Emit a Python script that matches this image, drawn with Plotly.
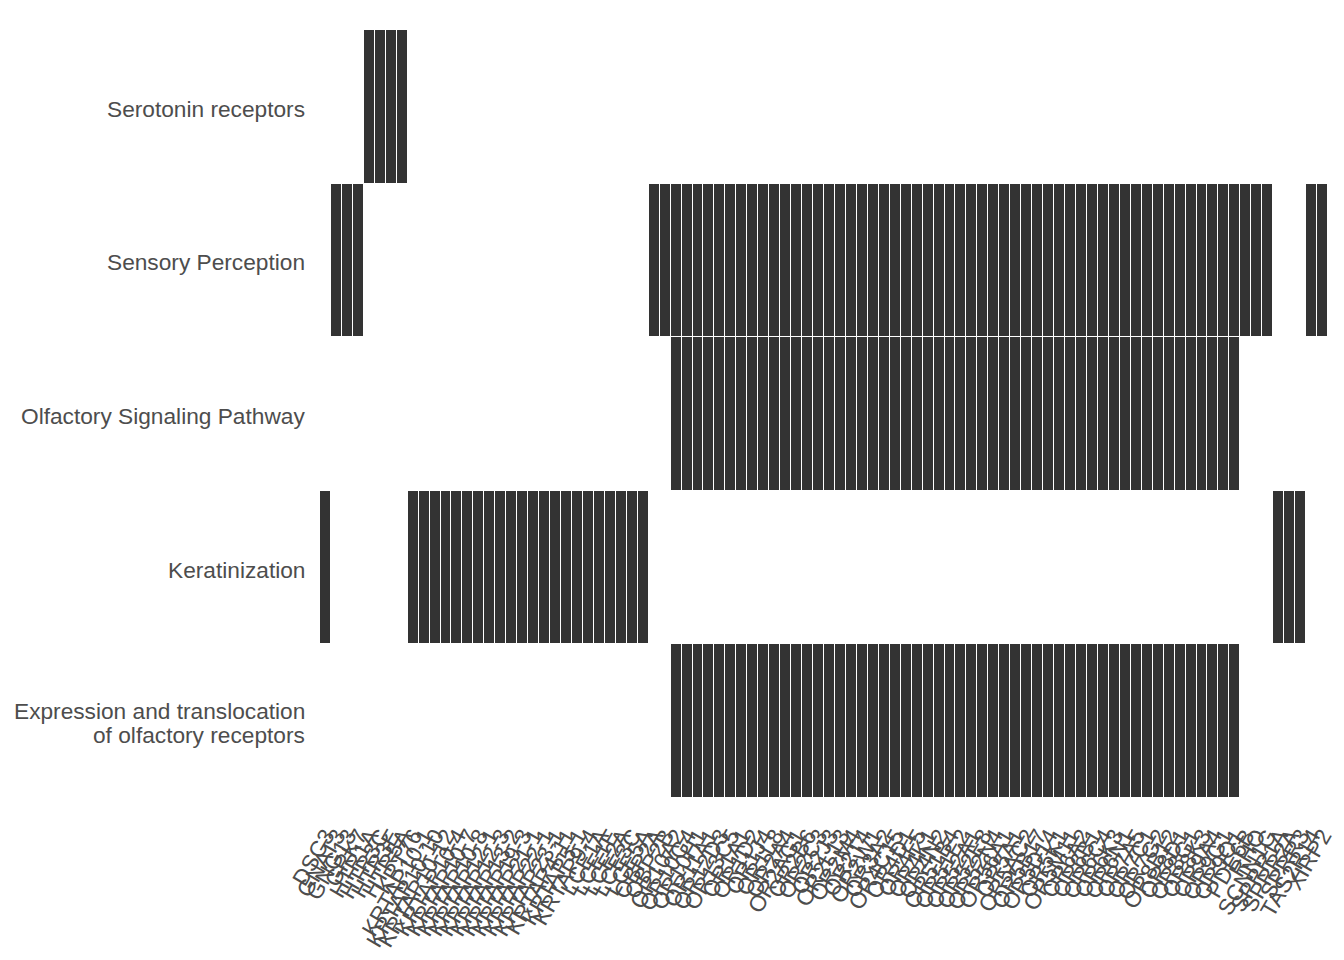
import plotly.graph_objects as go

# ---- data ----
pathways = [
    "Serotonin receptors",
    "Sensory Perception",
    "Olfactory Signaling Pathway",
    "Keratinization",
    "Expression and translocation of olfactory receptors",
]
# how each pathway label is broken into lines
pathway_lines = {
    "Serotonin receptors": ["Serotonin receptors"],
    "Sensory Perception": ["Sensory Perception"],
    "Olfactory Signaling Pathway": ["Olfactory Signaling Pathway"],
    "Keratinization": ["Keratinization"],
    "Expression and translocation of olfactory receptors":
        ["Expression and translocation", "of olfactory receptors"],
}

or_genes = [
    "OR10A2", "OR10G4", "OR10H1", "OR11A1", "OR12D3", "OR13C5", "OR1A1", "OR1D2",
    "OR1J4", "OR1L8", "OR2A4", "OR2AG1", "OR2B6", "OR2C3", "OR2J3", "OR2L13",
    "OR2M4", "OR2T4", "OR2W1", "OR3A2", "OR4C15", "OR4D1", "OR4F5", "OR4K1",
    "OR4N2", "OR51B4", "OR51E2", "OR52A1", "OR52E8", "OR52N4", "OR56A1", "OR5A1",
    "OR5AC2", "OR5B17", "OR5D14", "OR5K1", "OR5M11", "OR6A2", "OR6B1", "OR6C4",
    "OR6K3", "OR6N1", "OR7A5", "OR7C1", "OR7G2", "OR8B12", "OR8D1", "OR8G1",
    "OR8K3", "OR9A4", "OR9G1", "OR9Q1",
]

krt_genes = [
    "KRT76", "KRTAP10-1", "KRTAP10-10", "KRTAP10-12", "KRTAP10-4", "KRTAP10-7",
    "KRTAP10-8", "KRTAP12-1", "KRTAP12-3", "KRTAP13-2", "KRTAP19-3", "KRTAP21-1",
    "KRTAP22-1", "KRTAP23-1", "KRTAP4-11", "KRTAP5-1", "KRTAP9-4",
    "LCE1A", "LCE1E", "LCE2A", "LCE3C", "LCE5A",
]

genes = (["DSC3", "GNAT3", "GNG13", "GRK7", "HTR1A", "HTR3C", "HTR3E", "HTR5A"]
         + krt_genes + ["OBP2A", "OBP2B"] + or_genes
         + ["PDE6B", "RHO", "SCNN1G", "SPRR1A", "SPRR2A", "SPRR3", "TAS2R14", "XIRP2"])

serotonin = ["HTR1A", "HTR3C", "HTR3E", "HTR5A"]
sensory = (["GNAT3", "GNG13", "GRK7", "OBP2A", "OBP2B"] + or_genes
           + ["PDE6B", "RHO", "SCNN1G", "TAS2R14", "XIRP2"])
olfactory = list(or_genes)
keratinization = ["DSC3"] + krt_genes + ["SPRR1A", "SPRR2A", "SPRR3"]
expression = list(or_genes)

members = {
    pathways[0]: serotonin,
    pathways[1]: sensory,
    pathways[2]: olfactory,
    pathways[3]: keratinization,
    pathways[4]: expression,
}

# bottom-to-top order for the y axis
y_order = pathways[::-1]
z = [[1 if g in members[p] else None for g in genes] for p in y_order]

font_family = "Liberation Sans, Arial, sans-serif"
txt_col = "#4d4d4d"
fs = 22.7
line_gap = 24  # px between baselines of wrapped label lines

fig = go.Figure(go.Heatmap(
    x=genes, y=y_order, z=z,
    colorscale=[[0, "#333333"], [1, "#333333"]],
    zmin=0, zmax=1, showscale=False,
    xgap=1, ygap=1, hoverongaps=False,
))

# y labels as annotations (to control wrapped line spacing like ggplot)
annotations = []
for p in pathways:
    lines = pathway_lines[p]
    n = len(lines)
    for i, ln in enumerate(lines):
        annotations.append(dict(
            x=0, xref="paper", y=p, yref="y",
            xanchor="right", yanchor="middle", xshift=-13,
            yshift=((n - 1) / 2 - i) * line_gap - 2,
            text=ln, showarrow=False, align="right",
            font=dict(family=font_family, size=fs, color=txt_col),
        ))

fig.update_layout(
    width=1344, height=960,
    margin=dict(l=320, r=16, t=30, b=162),
    paper_bgcolor="white", plot_bgcolor="white",
    font=dict(family=font_family, size=fs, color=txt_col),
    annotations=annotations,
)
fig.update_xaxes(
    type="category", categoryorder="array", categoryarray=genes,
    tickmode="array", tickvals=genes, ticktext=genes,
    tickangle=-60, showgrid=False, zeroline=False, showline=False,
    ticks="", automargin=False, ticklabelstandoff=19,
    tickfont=dict(size=fs, color=txt_col, family=font_family),
)
fig.update_yaxes(
    type="category", categoryorder="array", categoryarray=y_order,
    showgrid=False, zeroline=False, showline=False, showticklabels=False,
    ticks="", automargin=False,
)

fig.write_html("out.html")
